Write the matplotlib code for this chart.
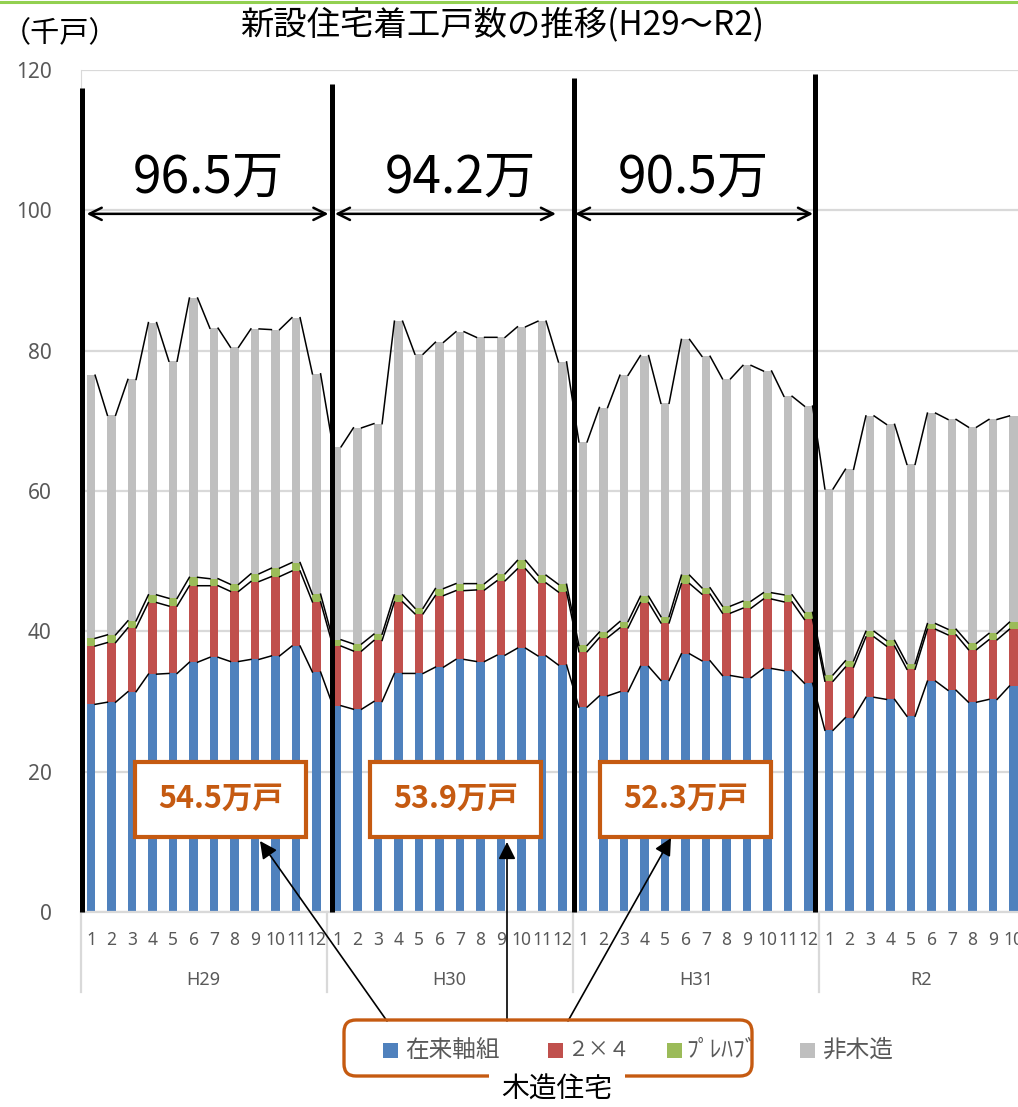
import numpy as np
import matplotlib
matplotlib.use('Agg')
import matplotlib.pyplot as plt
from matplotlib.patches import Rectangle, FancyBboxPatch

plt.rcParams['font.family'] = ['Noto Sans CJK JP', 'DejaVu Sans']

# monthly housing starts (thousand units), H29 Jan .. R2 Oct
years = ['H29', 'H30', 'H31', 'R2']
months_per_year = [12, 12, 12, 10]

zairai = [29.6, 29.9, 31.4, 33.9, 34.0, 35.6, 36.3, 35.7, 36.0, 36.5, 37.9, 34.2,
          29.4, 28.9, 30.0, 34.0, 34.0, 34.9, 36.0, 35.7, 36.6, 37.6, 36.5, 35.2,
          29.2, 30.8, 31.4, 35.0, 33.0, 36.8, 35.8, 33.7, 33.4, 34.7, 34.4, 32.6,
          25.9, 27.7, 30.6, 30.3, 27.9, 32.9, 31.6, 29.9, 30.3, 32.2]
two_by_four = [8.3, 8.5, 9.1, 10.2, 9.6, 10.9, 10.2, 10.0, 11.1, 11.3, 10.7, 10.0,
               8.5, 8.3, 8.7, 10.2, 8.5, 10.2, 9.8, 10.2, 10.6, 11.3, 10.4, 10.4,
               7.9, 8.3, 9.1, 9.1, 8.2, 10.0, 9.5, 8.9, 9.9, 9.9, 9.8, 9.1,
               7.0, 7.2, 8.6, 7.6, 6.7, 7.4, 7.9, 7.5, 8.5, 8.1]
prefab = [1.1, 1.1, 1.0, 1.1, 1.1, 1.2, 1.0, 1.0, 1.1, 1.2, 1.2, 1.1,
          0.9, 1.0, 0.9, 1.0, 0.8, 1.0, 1.0, 0.9, 1.0, 1.2, 1.1, 1.1,
          0.9, 0.8, 0.9, 0.9, 0.9, 1.2, 0.9, 1.0, 1.0, 0.9, 1.0, 1.0,
          0.9, 0.9, 0.8, 0.8, 0.8, 0.8, 0.8, 0.9, 0.9, 1.0]
non_wood = [37.5, 31.3, 34.4, 38.8, 33.8, 39.8, 35.7, 33.8, 34.9, 34.0, 34.9, 31.4,
            27.5, 30.8, 30.0, 39.0, 36.2, 35.1, 35.9, 35.1, 33.7, 33.3, 36.2, 31.7,
            29.0, 32.0, 35.1, 34.3, 30.4, 33.6, 33.0, 32.4, 33.6, 31.6, 28.3, 29.4,
            26.5, 27.3, 30.7, 30.8, 28.4, 30.0, 29.9, 30.8, 30.5, 29.4]

year_totals = ['96.5万', '94.2万', '90.5万']
wood_totals = ['54.5万戸', '53.9万戸', '52.3万戸']

series_names = ['在来軸組', '２×４', 'ﾌﾟﾚﾊﾌﾞ', '非木造']
colors = ['#4F81BD', '#C0504D', '#9BBB59', '#BFBFBF']
orange = '#C55A11'
grey_txt = '#595959'
grid_c = '#D9D9D9'

W, H = 1018, 1107
fig = plt.figure(figsize=(W / 100, H / 100), dpi=100)
ax = fig.add_axes([80.75 / W, 195 / H, 1 - 80.75 / W, 842 / H])

n = len(zairai)
x = np.arange(n)
bw = 0.4
layers = [zairai, two_by_four, prefab, non_wood]
bottom = np.zeros(n)
tops = []
for vals, c in zip(layers, colors):
    vals = np.array(vals)
    ax.bar(x, vals, bw, bottom=bottom, color=c, zorder=2)
    bottom = bottom + vals
    tops.append(bottom.copy())

# series lines joining the stack levels
for t in tops:
    xs, ys = [], []
    for i in range(n - 1):
        xs += [i + bw / 2, i + 1 - bw / 2, np.nan]
        ys += [t[i], t[i + 1], np.nan]
    ax.plot(xs, ys, color='k', lw=1.1, zorder=3)

ax.set_xlim(-0.5, (W - 91) / 20.5)
ax.set_ylim(0, 120)
ax.set_yticks(range(0, 121, 20))
ax.yaxis.grid(True, color=grid_c, lw=1.6)
ax.set_axisbelow(True)
for s in ['top', 'right']:
    ax.spines[s].set_visible(False)
ax.spines['left'].set_color(grid_c)
ax.spines['bottom'].set_color(grid_c)
ax.spines['bottom'].set_linewidth(1.6)
ax.tick_params(axis='y', length=0, pad=21, labelsize=15, labelcolor=grey_txt)
ax.set_xticks([])
for lab in ax.get_yticklabels():
    lab.set_family(['Noto Sans', 'DejaVu Sans'])

# multi-level category labels
xt = ax.get_xaxis_transform()
pos = 0
for yr, m in zip(years, months_per_year):
    for k in range(m):
        ax.text(pos + k, -0.033, str(k + 1), transform=xt, ha='center', va='center',
                fontsize=12.5, color=grey_txt, family=['Noto Sans', 'DejaVu Sans'])
    ax.text(pos + (m - 1) / 2, -0.081, yr, transform=xt, ha='center', va='center',
            fontsize=13, color=grey_txt, family=['Noto Sans', 'DejaVu Sans'])
    ax.plot([pos - 0.5, pos - 0.5], [0, -0.095], transform=xt, color=grid_c,
            lw=1.6, clip_on=False)
    pos += m

# thick year dividers
div_x = [-0.45, 11.75, 23.55, 35.3]
div_top = [117.5, 118.0, 118.8, 119.4]
for dx, dt in zip(div_x, div_top):
    ax.plot([dx, dx], [0, dt], color='k', lw=3.6, solid_capstyle='butt',
            zorder=5, clip_on=False)

# double arrows with yearly totals
arr = [(-0.21, 11.58), (11.9, 22.68), (23.61, 35.22)]
txt_x = [5.71, 18.0, 29.37]
for (a0, a1), tx, lab in zip(arr, txt_x, year_totals):
    ax.annotate('', xy=(a1, 99.5), xytext=(a0, 99.5),
                arrowprops=dict(arrowstyle='<->', lw=1.8, color='k',
                                mutation_scale=22, shrinkA=0, shrinkB=0), zorder=6)
    ax.text(tx, 104.6, lab, ha='center', va='center', fontsize=37, color='k', zorder=6)

# wooden totals boxes
box_x = [6.33, 17.78, 29.02]
bwid, bhgt = 171 / 20.5, 75 / 7.02
for bx, lab in zip(box_x, wood_totals):
    ax.add_patch(Rectangle((bx - bwid / 2, 16.1 - bhgt / 2), bwid, bhgt,
                           facecolor='white', edgecolor=orange, lw=3, zorder=7))
    ax.text(bx, 16.1, lab, ha='center', va='center', fontsize=22,
            fontweight='bold', color=orange, zorder=8)

# arrows from the legend to the boxes (image pixel coords)
def fp(px, py):
    return (px / 100, (H - py) / 100)

arrow_px = [((387, 1021), (260, 841)), ((507, 1021), (507, 842)),
            ((568, 1021), (671, 838))]
for tail, head in arrow_px:
    ax.annotate('', xy=fp(*head), xycoords=fig.dpi_scale_trans,
                xytext=fp(*tail), textcoords=fig.dpi_scale_trans,
                arrowprops=dict(arrowstyle='-|>', lw=1.2, color='k',
                                mutation_scale=26, shrinkA=0, shrinkB=0),
                annotation_clip=False, zorder=9)

# legend drawn by hand
ist = fig.dpi_scale_trans
fig.patches.append(FancyBboxPatch(fp(344, 1076), 4.08, 0.56,
                                  boxstyle='round,pad=0,rounding_size=0.12',
                                  facecolor='none', edgecolor=orange, lw=2.4,
                                  transform=ist, figure=fig))
leg_sq = [383, 548, 667, 800]
leg_tx = [405, 567, 686, 822]
leg_fs = [17, 15, 17, 17]
for sq, tx, c, name, fs in zip(leg_sq, leg_tx, colors, series_names, leg_fs):
    fig.patches.append(Rectangle(fp(sq, 1058), 0.15, 0.15, facecolor=c,
                                 edgecolor='none', transform=ist, figure=fig))
    fig.text(*fp(tx, 1050), name, transform=ist, ha='left', va='center',
             fontsize=fs, color=grey_txt)
fig.text(*fp(557, 1090), '木造住宅', transform=ist, ha='center', va='center',
         fontsize=20, color='k',
         bbox=dict(facecolor='white', edgecolor='none', pad=9))

# titles
fig.text(*fp(502, 25), '新設住宅着工戸数の推移(H29～R2)', transform=ist,
         ha='center', va='center', fontsize=24, color='k')
fig.text(*fp(2, 34), '（千戸）', transform=ist, ha='left', va='center',
         fontsize=21, color='k')
fig.add_artist(plt.Line2D([0, 1], [1 - 1.5 / H, 1 - 1.5 / H], color='#92D050',
                          lw=2.2, transform=fig.transFigure))

fig.savefig('out.png', dpi=100)
